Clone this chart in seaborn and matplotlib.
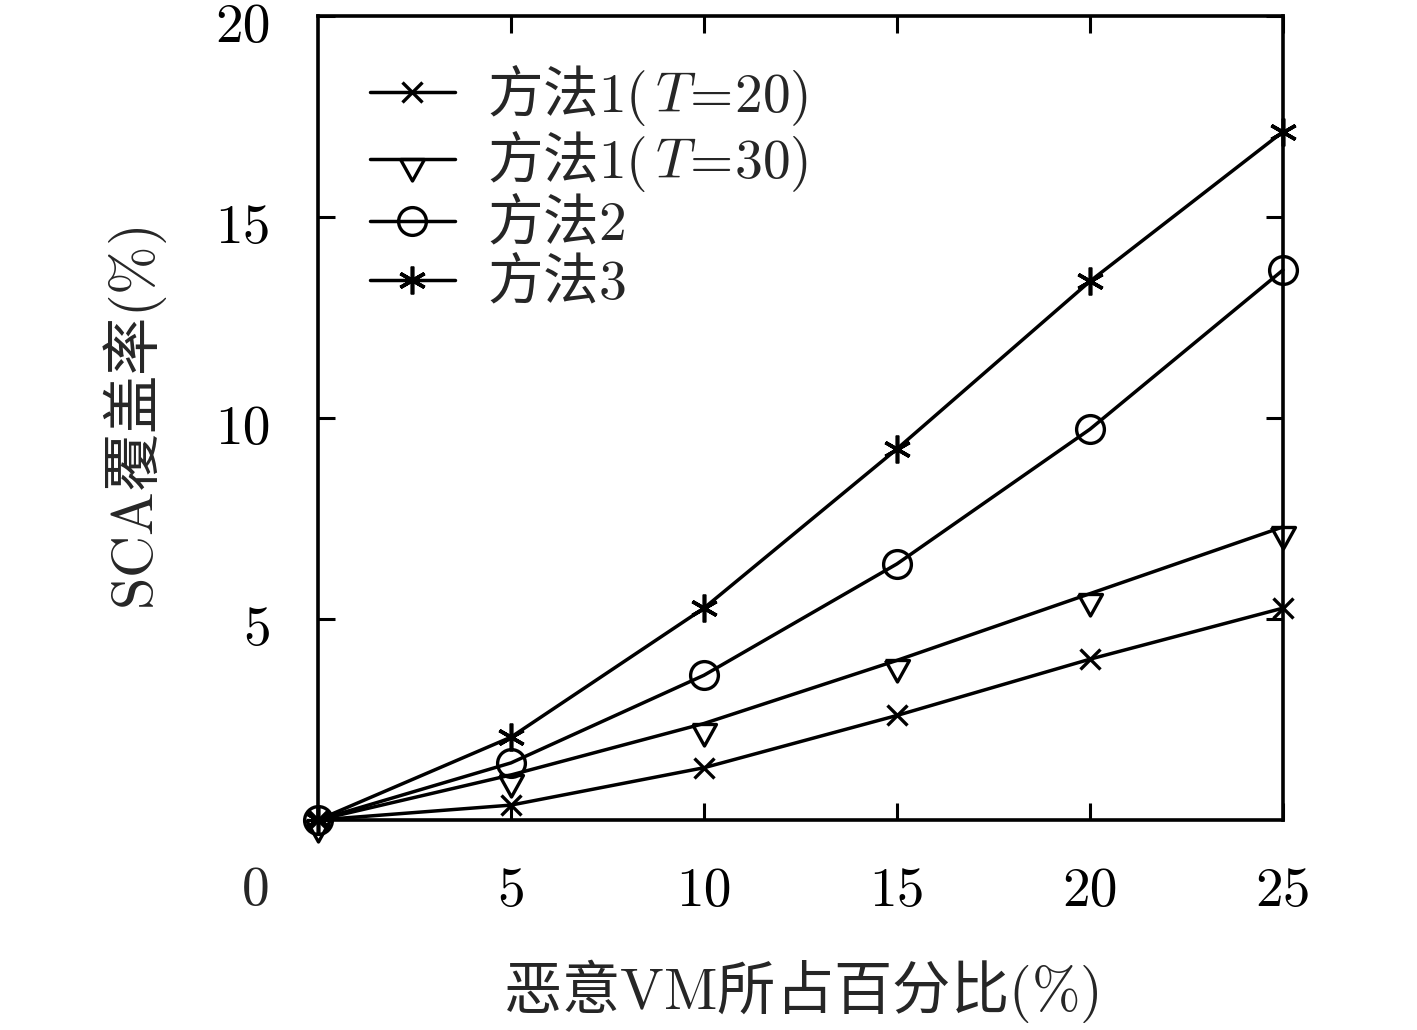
import numpy as np
import pandas as pd
import matplotlib
matplotlib.use("Agg")
import matplotlib.pyplot as plt
from matplotlib.transforms import ScaledTranslation
import seaborn as sns

x_vals = [0, 5, 10, 15, 20, 25]
m1_t20 = [0, 0.37, 1.3, 2.6, 4.0, 5.27]
m1_t30 = [0, 1.12, 2.4, 3.97, 5.63, 7.29]
m2 = [0, 1.42, 3.6, 6.37, 9.72, 13.68]
m3 = [0, 2.06, 5.27, 9.23, 13.4, 17.12]
labels = ["方法$1(\\,T\\!=\\!20)$", "方法$1(\\,T\\!=\\!30)$", "方法$2$", "方法$3$"]
xticks = [5, 10, 15, 20, 25]
yticks = [5, 10, 15, 20]

sns.set_theme(style="ticks")
plt.rcParams['font.family'] = ['Noto Sans CJK SC', 'DejaVu Sans']
plt.rcParams['mathtext.fontset'] = 'cm'

fig = plt.figure(figsize=(14.17, 10.30), dpi=100)
ax = fig.add_axes([0.2244, 0.2039, 0.9054 - 0.2244, 0.9845 - 0.2039])

tri = [(-1, 0), (1, 0), (0, -1.8), (-1, 0)]
star = (6, 2, 0)
styles = [
    dict(marker="x", markersize=15, mew=2.4, mfc="none"),
    dict(marker=tri, markersize=31, mew=2.4, mfc="none"),
    dict(marker="o", markersize=20, mew=2.4, mfc="none"),
    dict(marker=star, markersize=20, mew=2.6, mfc="none"),
]
series = [m1_t20, m1_t30, m2, m3]
for ys, lab, st in zip(series, labels, styles):
    df = pd.DataFrame({"x": x_vals, "y": ys})
    sns.lineplot(data=df, x="x", y="y", ax=ax, color="black", lw=2.5,
                 label=lab, mec="black", clip_on=False, **st)

ax.set_xlim(0, 25)
ax.set_ylim(0, 20)
ax.set_xticks(xticks)
ax.set_yticks(yticks)
ax.set_xticklabels([str(v) for v in xticks], fontfamily="cmr10", fontsize=40)
ax.set_yticklabels([str(v) for v in yticks], fontfamily="cmr10", fontsize=40)
ax.tick_params(direction="in", length=12, width=2.2, top=True, right=True,
               colors="black")
ax.tick_params(axis="y", pad=34)
ax.tick_params(axis="x", pad=34)
for sp in ax.spines.values():
    sp.set_linewidth(2.6)
    sp.set_color("black")

shift = ScaledTranslation(0, -5 / 72, fig.dpi_scale_trans)
for lab in ax.get_yticklabels():
    lab.set_transform(lab.get_transform() + shift)

ax.annotate("0", xy=(0, 0), xycoords="axes fraction", xytext=(-45, -51),
            textcoords="offset points", fontfamily="cmr10", fontsize=40,
            ha="center", va="center")

ax.set_xlabel("恶意$\\mathrm{VM}$所占百分比$(\\%)$", fontsize=42, labelpad=30)
ax.set_ylabel("$\\mathrm{SCA}$覆盖率$(\\%)$", fontsize=42, labelpad=33)

leg = ax.legend(loc="upper left", bbox_to_anchor=(0.0, 1.006), frameon=False,
                fontsize=40, handlelength=1.53, handletextpad=0.58,
                labelspacing=0.03, borderaxespad=0.3, borderpad=0.63)

fig.savefig("out.png", dpi=100, facecolor="white")
